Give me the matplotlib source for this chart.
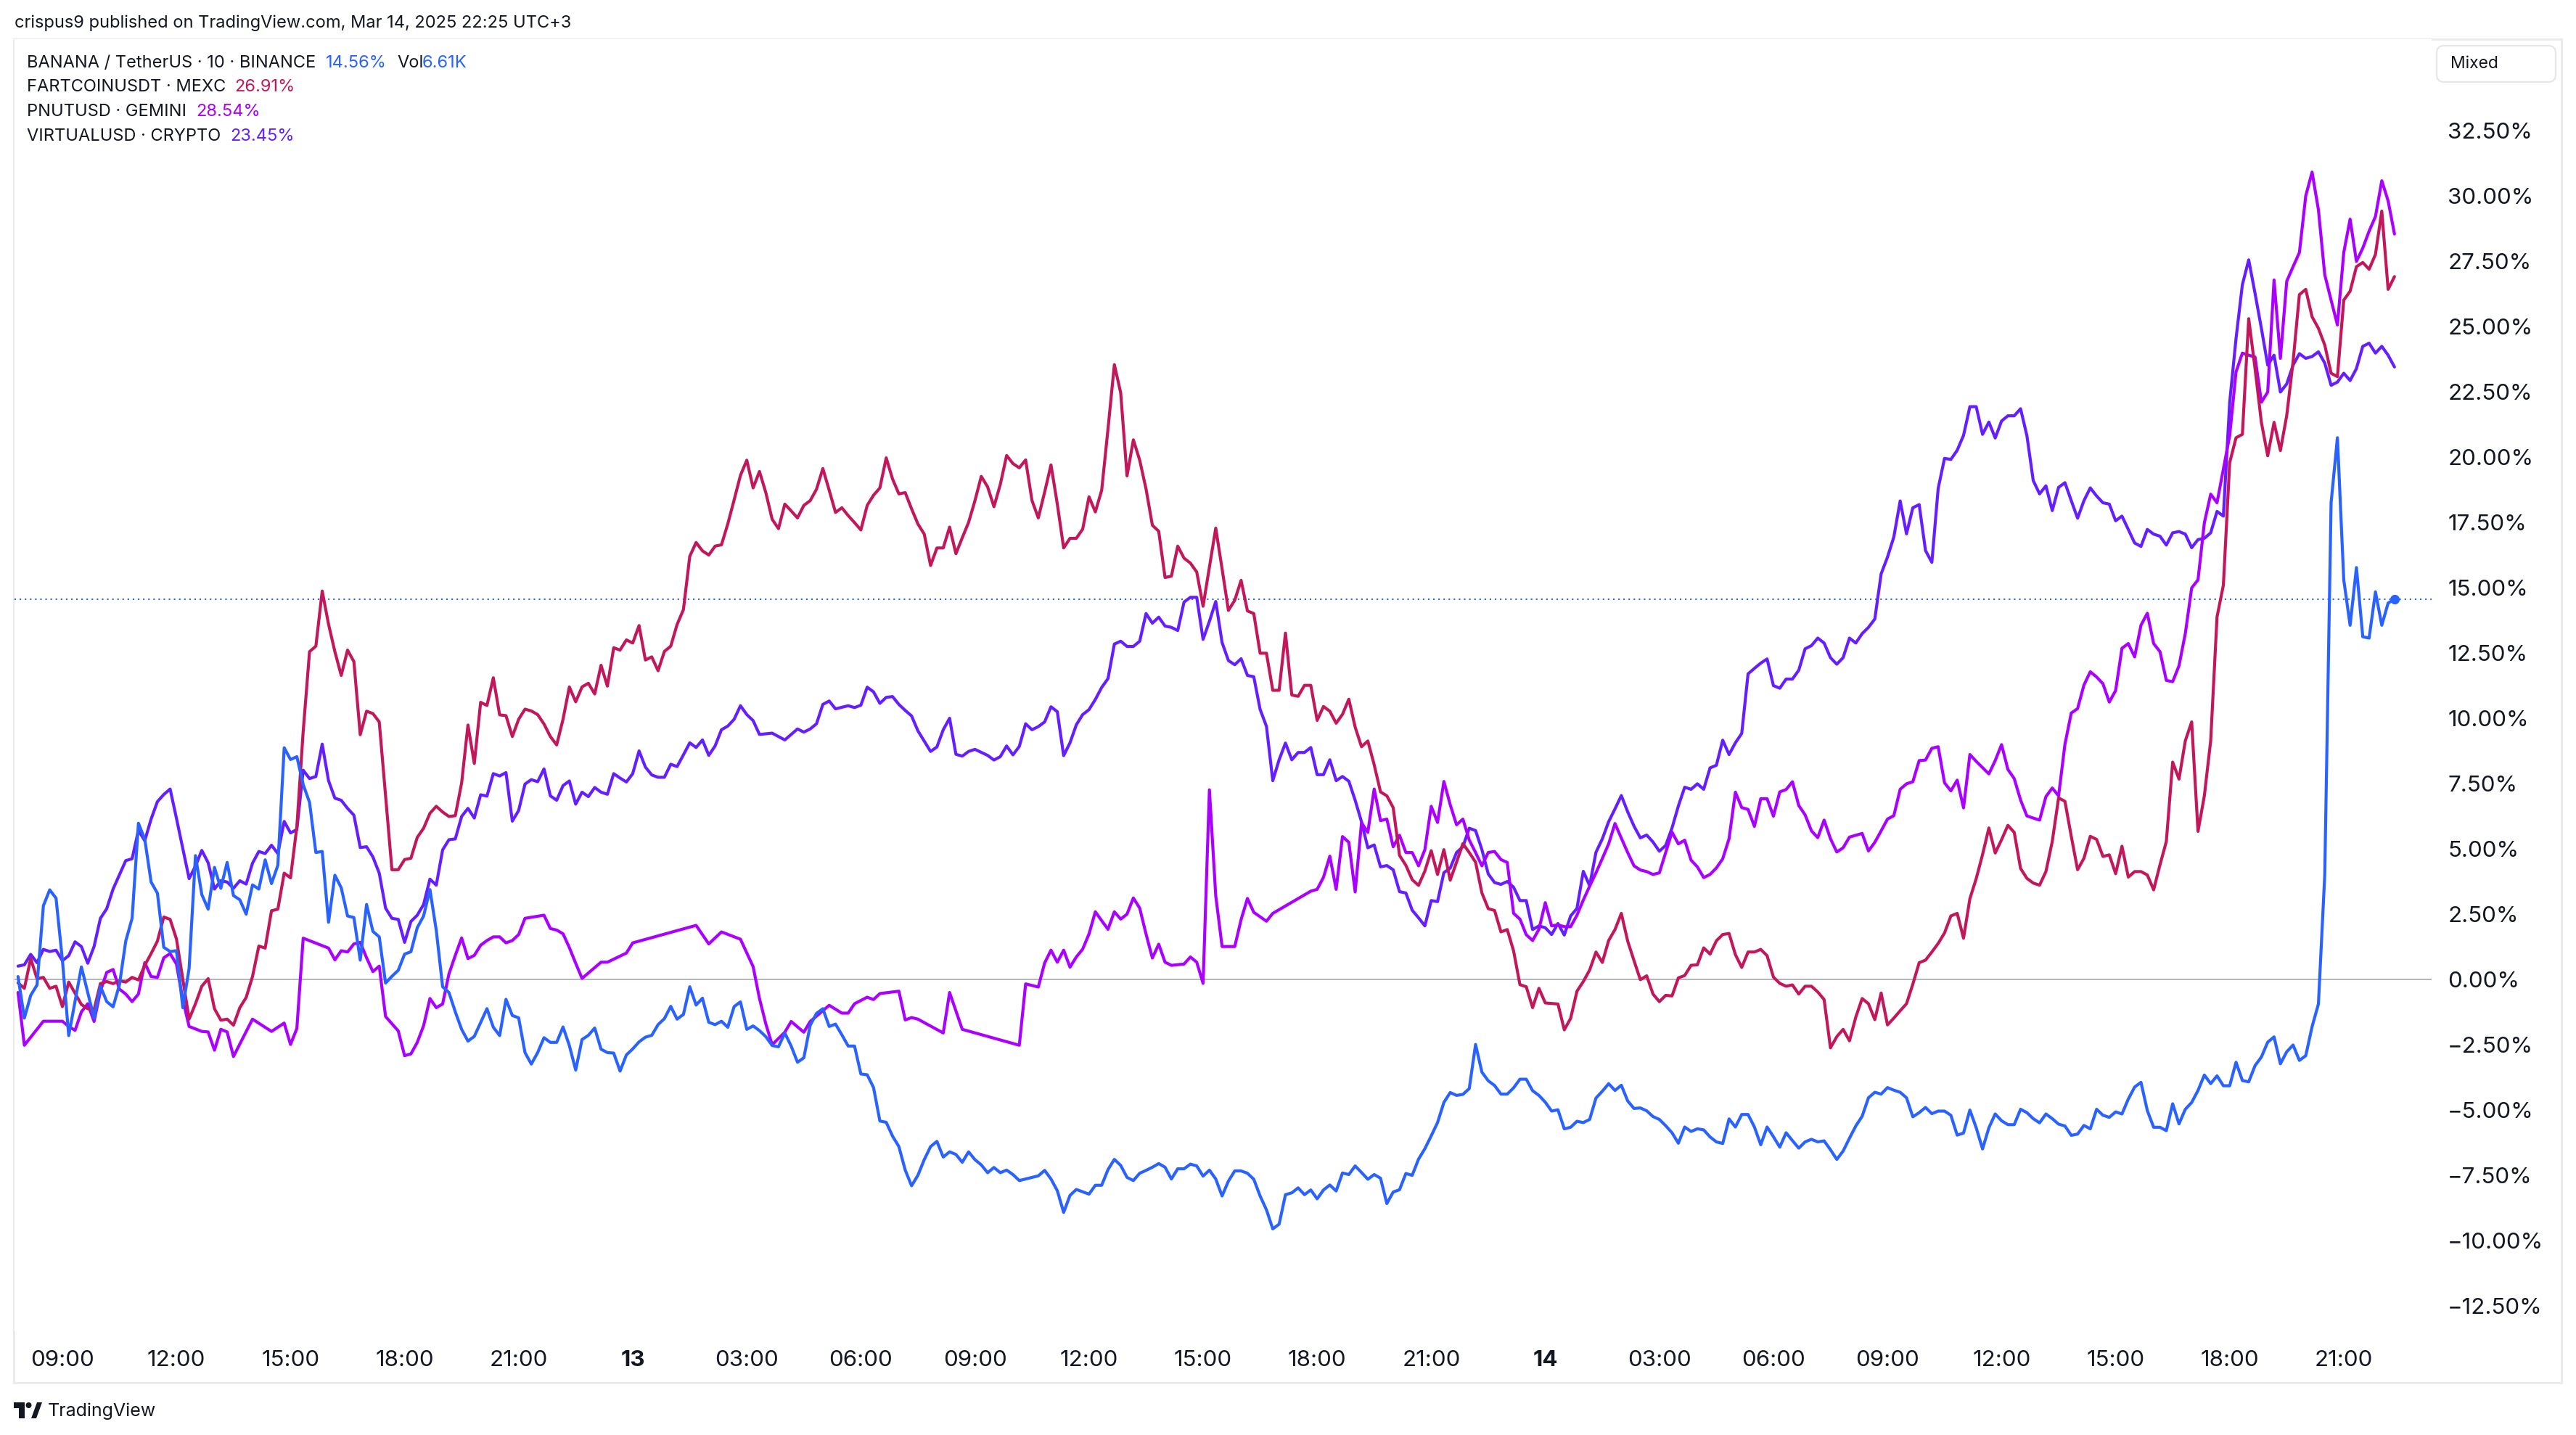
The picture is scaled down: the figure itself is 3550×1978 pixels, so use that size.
import numpy as np
import matplotlib
matplotlib.use("Agg")
import matplotlib.pyplot as plt
from matplotlib.patches import Rectangle, FancyBboxPatch, Circle, Polygon
from matplotlib.transforms import IdentityTransform

# ---------------- data (10-minute bars, bar 0 = Mar 12 07:50, UTC+3) ----------------
BAR0_HOUR = 7 + 50 / 60
BARS_PER_HOUR = 6

banana_bar = [0, 1, 2, 3, 4, 5, 6, 7, 8, 10, 12, 13, 14, 15, 16, 17, 18, 19, 20, 21, 22, 23, 24, 25, 26, 27,
              28, 29, 30, 31, 32, 33, 34, 35, 36, 37, 38, 39, 40, 41, 42, 43, 44, 45, 46, 47, 48, 49, 50, 51,
              52, 53, 54, 55, 56, 57, 58, 59, 60, 61, 62, 63, 64, 65, 66, 67, 68, 69, 70, 71, 72, 73, 74, 75,
              76, 77, 78, 79, 80, 81, 82, 83, 84, 85, 86, 87, 88, 89, 90, 91, 92, 93, 94, 95, 96, 97, 98, 99,
              100, 101, 102, 103, 104, 105, 106, 107, 108, 109, 110, 111, 112, 113, 114, 115, 116, 117, 118,
              119, 120, 121, 122, 123, 124, 125, 126, 127, 128, 129, 130, 131, 132, 133, 134, 135, 136, 137,
              138, 139, 140, 141, 142, 143, 144, 145, 146, 147, 148, 149, 150, 151, 152, 153, 154, 155, 156,
              157, 158, 161, 162, 163, 164, 165, 166, 167, 169, 170, 171, 172, 173, 174, 175, 176, 177, 178,
              179, 180, 181, 182, 183, 184, 185, 186, 187, 188, 189, 190, 191, 192, 193, 194, 195, 196, 197,
              198, 199, 200, 201, 202, 203, 204, 205, 206, 207, 208, 209, 210, 211, 212, 213, 214, 215, 216,
              217, 218, 219, 220, 221, 222, 223, 224, 225, 226, 227, 228, 229, 230, 231, 232, 233, 234, 235,
              236, 237, 238, 239, 240, 241, 242, 243, 244, 245, 246, 247, 248, 249, 250, 251, 252, 253, 254,
              255, 256, 257, 258, 259, 260, 261, 262, 263, 264, 265, 266, 267, 268, 269, 270, 271, 272, 273,
              274, 275, 276, 277, 278, 279, 280, 281, 282, 283, 284, 285, 286, 287, 288, 289, 290, 291, 292,
              293, 294, 295, 296, 297, 298, 299, 300, 301, 302, 303, 304, 305, 306, 307, 308, 309, 310, 311,
              312, 313, 314, 315, 316, 317, 318, 319, 320, 321, 322, 323, 324, 325, 326, 327, 328, 329, 330,
              331, 332, 333, 334, 335, 336, 337, 338, 339, 340, 341, 342, 343, 344, 345, 346, 347, 348, 349,
              350, 351, 352, 353, 354, 355, 356, 357, 358, 359, 360, 361, 362, 363, 364, 365, 366, 367, 368,
              369, 370, 371, 372, 373, 374, 375]
banana_pct = [0.11, -1.48, -0.61, -0.21, 2.82, 3.43, 3.11, 0.75, -2.15, 0.48, -1.48, -0.26, -0.85, -1.05,
              -0.21, 1.47, 2.34, 5.98, 5.37, 3.73, 3.30, 1.23, 1.07, 1.10, -1.08, 0.43, 4.74, 3.25, 2.69, 4.29,
              3.49, 4.48, 3.21, 3.05, 2.50, 3.62, 3.46, 4.58, 3.67, 4.37, 8.87, 8.42, 8.53, 7.46, 6.78, 4.86,
              4.90, 2.19, 3.99, 3.51,
              2.43, 2.37, 0.74, 2.87, 1.84, 1.63, -0.14, 0.12, 0.35, 0.97, 1.06, 1.98, 2.43, 3.44, 1.88, -0.28,
              -0.50, -1.24, -1.91, -2.36, -2.18, -1.65, -1.12, -1.83, -2.15, -0.76, -1.38, -1.47, -2.80, -3.24,
              -2.80, -2.23, -2.41, -2.41, -1.82, -2.53, -3.47, -2.30, -2.14, -1.86, -2.67, -2.80, -2.82, -3.51,
              -2.89, -2.66, -2.39, -2.21, -2.14, -1.73, -1.50, -1.03, -1.52,
              -1.34, -0.28, -0.98, -0.72, -1.64, -1.73, -1.60, -1.83, -1.04, -0.86, -1.91, -1.78, -1.96, -2.19,
              -2.53, -2.58, -2.05, -2.55, -3.17, -3.00, -1.76, -1.30, -1.12, -1.80, -1.71, -2.12, -2.55, -2.55,
              -3.62, -3.65, -4.14, -5.42, -5.47,
              -6.0, -6.4, -7.3, -7.9, -7.5, -6.9, -6.4, -6.2, -6.8, -6.6, -6.7, -7.0, -6.6, -6.9, -7.1, -7.4,
              -7.2, -7.4, -7.3,
              -7.47, -7.70, -7.52, -7.31, -7.64, -8.09, -8.92, -8.27, -8.04, -8.22, -7.88, -7.88, -7.28, -6.89,
              -7.12, -7.58, -7.70, -7.42, -7.31, -7.19, -7.05, -7.19, -7.64, -7.25, -7.25, -7.07, -7.14, -7.53,
              -7.30, -7.64, -8.29, -7.72, -7.33, -7.33, -7.42, -7.65, -8.29, -8.82, -9.55, -9.37, -8.24, -8.17,
              -7.98, -8.24, -8.06, -8.40, -8.06, -7.87, -8.10, -7.41,
              -7.47, -7.14, -7.39, -7.65, -7.47, -7.61, -8.58, -8.14, -8.05, -7.43, -7.50, -6.88, -6.48, -5.99,
              -5.48, -4.71, -4.33, -4.44, -4.40, -4.18, -2.49, -3.55, -3.88, -4.06, -4.39, -4.39, -4.15, -3.82,
              -3.82, -4.26, -4.44, -4.70, -5.04, -4.99, -5.72, -5.66, -5.43, -5.48, -5.36, -4.54, -4.28, -3.99,
              -4.25, -4.05, -4.65, -4.94, -4.92, -5.03, -5.25, -5.36, -5.60, -5.87, -6.27,
              -5.65, -5.82, -5.72, -5.76, -6.03, -6.22, -6.28, -5.34, -5.65, -5.17, -5.17, -5.65, -6.33, -5.65,
              -6.02, -6.42, -5.87, -6.17, -6.46, -6.22, -6.12, -6.22, -6.18, -6.52, -6.89, -6.57, -6.08, -5.61,
              -5.24, -4.53, -4.32, -4.39, -4.14, -4.24, -4.32, -4.53, -5.26, -5.10, -4.90, -5.14, -5.04, -5.04,
              -5.20, -5.96, -5.88, -5.00, -5.68, -6.49, -5.68, -5.15, -5.41, -5.56, -5.56,
              -4.97, -5.10, -5.33, -5.49, -5.15, -5.33, -5.54, -5.61, -5.97, -5.92, -5.59, -5.72, -4.97, -5.20,
              -5.28, -5.07, -5.15, -4.58, -4.12, -3.94, -5.02, -5.66, -5.66, -5.79, -4.76, -5.53, -4.97, -4.71,
              -4.25, -3.66, -3.99, -3.69, -4.07, -4.07, -3.17, -3.87, -3.92, -3.30, -2.97, -2.40, -2.20, -3.23,
              -2.77, -2.51, -3.10, -2.92, -1.81, -0.94, 4.00, 18.25, 20.74, 15.30, 13.56, 15.77, 13.12, 13.07,
              14.84, 13.56, 14.41, 14.56]

fart_bar = [0, 1, 2, 3, 4, 5, 6, 7, 8, 9, 10, 11, 12, 13, 14, 15, 16, 17, 18, 19, 20, 21, 22, 23, 24, 25,
            27, 28, 29, 30, 31, 32, 33, 34, 35, 36, 37, 38, 39, 40, 41, 42, 43, 44, 45, 46, 47, 48, 49, 50, 51,
            52, 53, 54, 55, 56, 57, 59, 60, 61, 62, 63, 64, 65, 66, 67, 68, 69, 70, 71, 72, 73, 74, 75, 76, 77,
            78, 79, 80, 81, 82, 83, 84, 85, 86, 87, 88, 89, 90, 91, 92, 93, 94, 95, 96, 97, 98, 99, 100, 101,
            102, 103, 104,
            105, 106, 107, 108, 109, 110, 111, 112, 113, 114, 115, 116, 117, 118, 119, 120, 121, 122, 123,
            124, 125, 126, 127, 128, 129, 130, 131, 132, 133, 134, 135, 136, 137, 138, 139, 140, 141, 142,
            143, 144, 145, 146, 147, 148, 149, 150, 151, 152, 153, 154, 155, 156,
            157, 158, 159, 160, 161, 162, 163, 164, 165, 166, 167, 168, 169, 170, 171, 172, 173, 174, 175,
            176, 177, 178, 179, 180, 181, 182, 183, 184, 185, 186, 187, 188, 189, 190, 191, 192, 193, 194,
            195, 196, 197, 198, 199, 200, 201, 202, 203, 204, 205, 206, 207, 208, 209,
            210, 211, 212, 213, 214, 215, 216, 217, 218, 219, 220, 221, 222, 223, 224, 225, 226, 227, 228,
            229, 230, 231, 232, 233, 234, 235, 236, 237, 238, 239, 240, 241, 243, 244, 245, 246, 247, 248,
            249, 250, 251, 252, 253, 254, 255, 256, 257, 258, 259, 260, 261, 262,
            263, 264, 265, 266, 267, 268, 269, 270, 271, 272, 273, 274, 275, 276, 277, 278, 279, 280, 281,
            282, 283, 284, 285, 286, 287, 288, 289, 290, 291, 292, 293, 294, 295, 296, 297, 298, 299, 300,
            301, 302, 303, 304, 305, 306, 307, 308, 309, 310, 311, 312, 313, 314, 315,
            316, 317, 318, 319, 320, 321, 322, 323, 324, 325, 326, 327, 328, 329, 330, 331, 332, 333, 334,
            335, 336, 337, 338, 339, 340, 341, 342, 343, 344, 345, 346, 347, 348, 349, 350, 351, 352, 353,
            354, 355, 356, 357, 358, 359, 360, 361, 362, 363, 364, 365, 366, 367, 368, 369, 370, 371, 372,
            373, 374, 375]
fart_pct = [-0.13, -0.34, 0.80, 0.03, 0.08, -0.34, -0.26, -1.04, -0.10, -0.53, -0.96, -1.12, -1.16, -0.16,
            -0.08, -0.16, -0.05, -0.10, 0.08, -0.02, 0.54, 0.99, 1.47, 2.39, 2.30, 1.55, -1.52, -0.93, -0.26,
            0.03, -1.12, -1.56, -1.52, -1.75, -1.08, -0.69, 0.11, 1.28, 1.20, 2.63, 2.69, 4.07, 3.89, 5.85, 9.5,
            12.55, 12.76, 14.87, 13.60, 12.55, 11.64,
            12.61, 12.17, 9.37, 10.27, 10.18, 9.86, 4.20, 4.20, 4.59, 4.64, 5.44, 5.79, 6.36, 6.63, 6.41, 6.24,
            6.27, 7.52, 9.74, 8.27, 10.61, 10.49, 11.55, 10.13, 10.10, 9.30, 9.96, 10.35, 10.28, 10.14, 9.78,
            9.30, 8.98, 9.96, 11.20, 10.63, 11.20, 11.34, 10.93, 12.03, 11.23, 12.70, 12.61, 13.00, 12.88,
            13.55, 12.23, 12.35, 11.82, 12.56, 12.76, 13.59,
            14.16, 16.20, 16.73, 16.41, 16.25, 16.59, 16.64, 17.44, 18.36, 19.30, 19.88, 18.82, 19.45, 18.64,
            17.62, 17.26, 18.20, 17.94, 17.67, 18.15, 18.33, 18.77, 19.56, 18.73, 17.88, 18.06, 17.76, 17.49,
            17.21, 18.15, 18.54, 18.82, 19.97, 19.16, 18.59, 18.64, 18.02, 17.44, 17.05, 15.85, 16.52, 16.52,
            17.32, 16.30, 16.91, 17.50, 18.33, 19.26, 18.86, 18.10, 18.95, 20.06,
            19.75, 19.59, 19.89, 18.34, 17.67, 18.66, 19.70, 18.20, 16.52, 16.89, 16.89, 17.24, 18.48, 17.90,
            18.73, 21.08, 23.54, 22.46, 19.28, 20.66, 19.88, 18.78, 17.39, 17.16, 15.39, 15.44, 16.59, 16.13,
            15.94, 15.60, 14.29, 15.78, 17.28, 15.72, 14.13, 14.52, 15.28, 14.11, 14.01, 12.49, 12.49, 11.07,
            11.07, 13.26, 10.89, 10.84, 11.26, 11.26, 9.92, 10.45, 10.27, 9.81, 10.15,
            10.73, 9.66, 8.91, 9.13, 8.22, 7.18, 7.03, 6.58, 4.75, 4.37, 3.82, 3.60, 4.15, 4.93, 4.02, 4.97,
            3.80, 4.49, 5.20, 4.86, 4.49, 3.31, 2.71, 2.64, 1.82, 1.91, 1.09, -0.20, -0.28, -1.08, -0.34, -0.90,
            -0.94, -1.93, -1.49, -0.45, -0.08, 0.36, 1.05, 0.65, 1.49, 1.91, 2.53, 1.47, 0.72, -0.01, 0.14,
            -0.56, -0.85, -0.61, -0.63, 0.06,
            0.15, 0.54, 0.56, 1.21, 0.97, 1.48, 1.72, 1.76, 0.95, 0.46, 1.05, 1.05, 1.15, 0.91, 0.09, -0.15,
            -0.26, -0.21, -0.56, -0.26, -0.26, -0.48, -0.77, -2.62, -2.19, -1.91, -2.35, -1.44, -0.73, -0.93,
            -1.54, -0.52, -1.74, -1.48, -1.20, -0.93, -0.18, 0.64, 0.74, 1.05, 1.38, 1.78, 2.43, 2.53, 1.58,
            3.09, 3.86, 4.78, 5.80, 4.84, 5.35, 5.90, 5.63,
            4.25, 3.87, 3.69, 3.61, 4.13, 5.28, 6.95, 6.82, 5.48, 4.20, 4.64, 5.48, 5.36, 4.71, 4.77, 4.05,
            5.10, 3.92, 4.13, 4.13, 4.00, 3.43, 4.39, 5.28, 8.32, 7.67, 9.14, 9.86, 5.67, 7.03, 9.14, 13.88,
            15.09, 19.79, 20.74, 20.87, 25.30, 23.39, 21.33, 20.05, 21.33, 20.25, 21.59, 23.65, 26.22, 26.42,
            25.37, 24.93, 24.29, 23.21, 23.08, 26.01, 26.35, 27.29, 27.45, 27.19, 27.76, 29.42, 26.42, 26.91]

pnut_bar = [0, 1, 4, 7, 8, 9, 10, 11, 12, 13, 14, 15, 16, 17, 18, 19, 20, 21, 22, 23, 24, 25, 26, 27, 29,
            30, 31, 32, 33, 34, 37, 40, 42, 43, 44, 45, 49, 50, 51,
            52, 53, 54, 55, 56, 57, 58, 60, 61, 62, 63, 64, 65, 66, 67, 68, 69, 70, 71, 72, 73, 74, 75, 76,
            77, 78, 79, 80, 83, 84, 85, 86, 87, 88, 89, 92, 93, 96, 97,
            107, 109, 111, 114, 116, 117, 118, 119, 121, 122, 124, 125, 128, 130, 131, 132, 134, 135, 136,
            139, 140, 141, 142, 146, 147, 149,
            158, 159, 161, 162, 163, 164, 165, 166, 167, 168, 169, 170, 171, 172, 173, 174, 175, 176, 177,
            178, 179, 180, 181, 182, 184, 185, 186, 187, 188, 189, 190, 192, 193, 194, 195, 197, 198, 204,
            205, 206, 207, 208, 209,
            210, 211, 212, 213, 214, 215, 216, 217, 218, 219, 220, 221, 222, 223, 224, 225, 226, 227, 228,
            229, 230, 231, 232, 233, 234, 235, 236, 237, 238, 239, 240, 241, 242, 243, 244, 245, 246, 247,
            248, 249, 250, 251, 252, 253, 254, 255, 256, 257, 258, 259, 260, 261, 262,
            263, 264, 265, 266, 267, 268, 269, 270, 271, 272, 273, 274, 275, 276, 277, 278, 279, 280, 281,
            282, 283, 284, 285, 286, 287, 288, 289, 291, 292, 293, 294, 295, 296, 297, 298, 299, 300, 301,
            302, 303, 304, 305, 306, 307, 308, 309, 311, 312, 313, 314, 315,
            316, 317, 319, 320, 321, 322, 323, 324, 325, 326, 327, 328, 329, 330, 331, 332, 333, 334, 335,
            336, 337, 338, 339, 340, 341, 342, 343, 344, 345, 346, 347, 348, 349, 350, 351, 352, 353, 354,
            355, 356, 357, 358, 359, 360, 361, 362, 363, 364, 365, 366, 367, 368, 369, 370, 371, 372, 373,
            374, 375]
pnut_pct = [-0.5, -2.52, -1.60, -1.60, -1.80, -1.95, -1.24, -0.93, -1.61, -0.45, 0.27, 0.38, -0.37, -0.56,
            -0.85, -0.56, 0.64, 0.11, 0.08, 0.83, 0.99, 0.59, -0.77, -1.80, -1.99, -2.01, -2.71, -1.91, -2.01,
            -2.95, -1.52, -1.99, -1.67, -2.49, -1.88, 1.58, 1.20, 0.75, 1.10,
            1.05, 1.36, 1.42, 0.83, 0.30, 0.51, -1.42, -1.97, -2.92, -2.85, -2.41, -1.77, -0.73, -1.08, -0.94,
            0.21, 0.92, 1.59, 0.80, 0.92, 1.31, 1.49, 1.63, 1.63, 1.40, 1.49, 1.72, 2.34, 2.46, 1.95, 1.89,
            1.75, 1.22, 0.62, 0.04, 0.66, 0.66, 1.01, 1.40,
            2.07, 1.36, 1.82, 1.54, 0.49, -0.73, -1.70, -2.50, -2.02, -1.61, -2.02, -1.61, -0.99, -1.29, -1.29,
            -0.93, -0.68, -0.77, -0.54, -0.45, -1.55, -1.46, -1.52, -2.05, -0.50, -1.91,
            -2.52, -0.17, -0.29, 0.63, 1.12, 0.66, 1.12, 0.47, 0.86, 1.16, 1.74, 2.59, 2.25, 1.92, 2.59, 2.31,
            2.50, 3.12, 2.73, 1.74, 0.82, 1.35, 0.66, 0.54, 0.59, 0.86, 0.66, -0.15, 7.26, 3.20, 1.26, 1.26,
            2.29, 3.10, 2.57, 2.23, 2.53, 3.38, 3.45, 3.91, 4.72, 3.45, 5.47,
            5.25, 3.35, 6.00, 5.63, 7.29, 6.08, 6.14, 5.08, 5.52, 4.86, 4.86, 4.35, 4.97, 6.63, 6.01, 7.58,
            6.69, 5.92, 6.14, 5.34, 4.86, 4.35, 4.86, 4.90, 4.59, 4.48, 2.53, 2.31, 1.71, 1.49, 1.92, 2.94,
            2.05, 2.09, 2.02, 2.02, 2.46, 3.04, 3.57, 4.08, 4.63, 5.19, 5.97, 5.41, 4.86, 4.35, 4.19, 4.13,
            4.02, 4.08, 4.86, 5.64, 5.19,
            5.33, 4.57, 4.31, 3.90, 4.02, 4.27, 4.62, 5.39, 7.17, 6.58, 6.51, 5.86, 6.92, 6.92, 6.25, 7.18,
            7.27, 7.57, 6.66, 6.30, 5.69, 5.43, 6.10, 5.39, 4.88, 5.04, 5.45, 5.59, 4.92, 5.25, 5.69, 6.14,
            6.27, 7.28, 7.49, 7.57, 8.38, 8.40, 8.85, 8.91, 7.53, 7.22, 7.63, 6.57, 8.61, 8.35, 7.87, 8.38,
            8.99, 8.04, 7.69,
            6.87, 6.26, 6.10, 7.00, 7.33, 7.03, 9.00, 10.20, 10.37, 11.27, 11.78, 11.58, 11.32, 10.62, 11.06,
            12.68, 12.86, 12.35, 13.56, 14.02, 12.86, 12.55, 11.45, 11.40, 12.01, 13.25, 14.99, 15.30, 17.48,
            18.58, 18.25, 19.54, 20.82, 23.26, 23.98, 23.90, 23.83, 22.10, 22.49, 26.78, 23.78, 26.73, 27.29,
            27.83, 30.00, 30.91, 29.47, 26.98, 26.01, 25.06, 27.83, 29.11, 27.49, 28.00, 28.65, 29.21, 30.58,
            29.81, 28.54]

virtual_bar = [0, 1, 2, 3, 4, 5, 6, 7, 8, 9, 10, 11, 12, 13, 14, 15, 17, 18, 19, 20, 21, 22, 23, 24, 25,
               27, 28, 29, 30, 31, 32, 33, 34, 35, 36, 37, 38, 39, 40, 41, 42, 43, 44, 45, 46, 47, 48, 49, 50,
               51,
               52, 53, 54, 55, 56, 57, 58, 59, 60, 61, 62, 63, 64, 65, 66, 67, 68, 69, 70, 71, 72, 73, 74, 75,
               76, 77, 78, 79, 80, 81, 82, 83, 84, 85, 86, 87, 88, 89, 90, 91, 92, 93, 94, 95, 96, 97, 98, 99,
               100, 101, 102, 103, 104,
               105, 106, 107, 108, 109, 110, 111, 112, 113, 114, 115, 116, 117, 119, 121, 123, 124, 125, 126,
               127, 128, 129, 131, 132, 133, 134, 135, 136, 137, 138, 139, 140, 141, 142, 144, 145, 146, 147,
               148, 149, 150, 151, 153, 154, 155, 156,
               157, 158, 159, 160, 161, 162, 163, 164, 165, 166, 167, 168, 169, 170, 171, 172, 173, 174, 175,
               176, 177, 178, 179, 180, 181, 182, 183, 184, 185, 186, 187, 188, 189, 190, 191, 192, 193, 194,
               195, 196, 197, 198, 199, 200, 201, 202, 203, 204, 205, 206, 207, 208, 209,
               210, 211, 212, 213, 214, 215, 216, 217, 218, 219, 220, 221, 222, 223, 224, 225, 226, 227, 228,
               229, 230, 231, 232, 233, 234, 235, 236, 237, 238, 239, 240, 241, 242, 243, 244, 245, 246, 247,
               248, 249, 250, 251, 252, 253, 254, 255, 256, 257, 258, 259, 260, 261, 262,
               263, 264, 265, 266, 267, 268, 269, 270, 271, 272, 273, 274, 275, 276, 277, 278, 279, 280, 281,
               282, 283, 284, 285, 286, 287, 288, 289, 290, 291, 292, 293, 294, 295, 296, 297, 298, 299, 300,
               301, 302, 303, 304, 305, 306, 307, 308, 309, 310, 311, 312, 313, 314, 315,
               316, 317, 318, 319, 320, 321, 322, 323, 324, 325, 326, 327, 328, 329, 330, 331, 332, 333, 334,
               335, 336, 337, 338, 339, 340, 341, 342, 343, 344, 345, 346, 347, 348, 349, 350, 351, 352, 353,
               354, 355, 356, 357, 358, 359, 360, 361, 362, 363, 364, 365, 366, 367, 368, 369, 370, 371, 372,
               373, 374, 375]
virtual_pct = [0.51, 0.56, 0.96, 0.64, 1.15, 1.07, 1.12, 0.72, 0.91, 1.44, 1.26, 0.62, 1.26, 2.34, 2.71,
               3.46, 4.55, 4.62, 5.71, 5.31, 6.14, 6.81, 7.08, 7.29, 6.17, 3.86, 4.34, 4.94, 4.47, 3.46, 3.78,
               3.73, 3.49, 3.78, 3.65, 4.45, 4.90, 4.82, 5.14, 4.82, 6.05, 5.61, 5.74, 8.01, 7.69, 7.77, 9.01,
               7.61, 6.94, 6.86,
               6.55, 6.29, 5.05, 5.08, 4.69, 4.07, 2.73, 2.34, 2.30, 1.42, 2.22, 2.46, 2.87, 3.84, 3.61, 4.96,
               5.35, 5.38, 6.24, 6.55, 6.18, 7.07, 7.02, 7.88, 7.79, 7.92, 6.06, 6.47, 7.48, 7.65, 7.57, 8.06,
               7.03, 6.86, 7.42, 7.60, 6.71, 7.17, 7.00, 7.35, 7.17, 7.09, 7.88, 7.71, 7.56, 7.88, 8.75, 8.13,
               7.83, 7.74, 7.74, 8.24, 8.15,
               8.60, 9.06, 8.88, 9.17, 8.58, 8.94, 9.56, 9.70, 9.96, 10.48, 10.14, 9.91, 9.38, 9.43, 9.17, 9.59,
               9.47, 9.59, 9.79, 10.53, 10.66, 10.36, 10.48, 10.41, 10.50, 11.19, 11.01, 10.57, 10.80, 10.83,
               10.53, 10.30, 10.09, 9.52, 8.73, 8.90, 9.56, 10.00, 8.62, 8.55, 8.73, 8.81, 8.58, 8.40, 8.53, 8.94,
               8.60, 8.92, 9.79, 9.56, 9.68, 9.86, 10.44, 10.25, 8.57, 9.06, 9.75, 10.14, 10.33, 10.72, 11.18,
               11.52, 12.84, 12.95, 12.75, 12.75, 12.95, 14.01, 13.64, 13.87, 13.53, 13.48, 13.36, 14.45, 14.63,
               14.63, 13.02, 13.71, 14.47, 12.90, 12.21, 12.05, 12.28, 11.64, 11.59, 10.34, 9.69, 7.61, 8.41,
               9.05, 8.41, 8.69, 8.69, 8.88, 7.84, 7.84, 8.41, 7.61, 7.77,
               7.59, 6.86, 6.04, 5.04, 5.15, 4.31, 4.36, 4.20, 3.36, 3.31, 2.65, 2.36, 2.05, 3.02, 2.98, 4.09,
               4.26, 4.86, 5.08, 5.79, 5.70, 4.97, 4.04, 3.71, 3.64, 3.75, 3.53, 3.02, 3.02, 1.91, 2.05, 1.98,
               1.72, 2.14, 1.70, 2.43, 2.72, 4.14, 3.59, 4.87, 5.38, 6.04, 6.53, 7.04, 6.42, 5.87, 5.42, 5.53,
               5.26, 4.91, 5.13, 5.80, 6.64,
               7.36, 7.28, 7.49, 7.28, 8.10, 8.20, 9.16, 8.61, 9.06, 9.42, 11.70, 11.91, 12.11, 12.27, 11.25,
               11.15, 11.50, 11.50, 11.84, 12.66, 12.78, 13.07, 12.88, 12.32, 12.07, 12.32, 13.07, 12.88, 13.24,
               13.48, 13.80, 15.53, 16.17, 16.94, 18.32, 17.06, 18.06, 18.18, 16.42, 15.97, 18.80, 19.95, 19.91,
               20.26, 20.83, 21.93, 21.93, 20.87, 21.34, 20.73, 21.38, 21.58, 21.58,
               21.85, 20.82, 19.10, 18.59, 18.90, 17.95, 18.84, 19.02, 18.33, 17.66, 18.33, 18.82, 18.51, 18.25,
               18.20, 17.56, 17.74, 17.23, 16.71, 16.58, 17.23, 17.05, 16.97, 16.63, 17.10, 17.15, 17.05, 16.53,
               16.84, 16.89, 17.10, 17.92, 17.74, 22.10, 24.54, 26.60, 27.55, 26.27, 24.93, 23.52, 23.90, 22.49,
               22.80, 23.52, 23.96, 23.78, 23.85, 24.03, 23.60, 22.75, 22.87, 23.21, 22.93, 23.39, 24.24, 24.36,
               23.98, 24.24, 23.90, 23.45]

series_names = ["BANANA / TetherUS · 10 · BINANCE", "FARTCOINUSDT · MEXC", "PNUTUSD · GEMINI",
                "VIRTUALUSD · CRYPTO"]
series_last = ["14.56%", "26.91%", "28.54%", "23.45%"]
banana_volume = "6.61K"

x_tick_hours = [9, 12, 15, 18, 21, 24, 27, 30, 33, 36, 39, 42, 45, 48, 51, 54, 57, 60, 63, 66, 69]
x_tick_labels = ["09:00", "12:00", "15:00", "18:00", "21:00", "13", "03:00", "06:00", "09:00", "12:00",
                 "15:00", "18:00", "21:00", "14", "03:00", "06:00", "09:00", "12:00", "15:00", "18:00", "21:00"]
y_ticks = [-12.5, -10.0, -7.5, -5.0, -2.5, 0.0, 2.5, 5.0, 7.5, 10.0, 12.5, 15.0, 17.5, 20.0, 22.5, 25.0,
           27.5, 30.0, 32.5]

title_text = "crispus9 published on TradingView.com, Mar 14, 2025 22:25 UTC+3"

# ---------------- styling ----------------
C_BLUE = "#2962FF"
C_FART = "#C2185B"
C_PNUT = "#AA00FF"
C_VIRT = "#651FFF"
C_TEXT = "#131722"

W, H = 3550, 1978
DPI = 100
FONT = ["Inter", "DejaVu Sans"]
plt.rcParams["font.family"] = FONT


def hours(bars):
    return BAR0_HOUR + np.asarray(bars, dtype=float) / BARS_PER_HOUR


fig = plt.figure(figsize=(W / DPI, H / DPI), dpi=DPI)
fig.patch.set_facecolor("white")

# axes in pixel layout
AX_L, AX_R, AX_T, AX_B = 20, 3351, 54, 1835
ax = fig.add_axes([AX_L / W, 1 - AX_B / H, (AX_R - AX_L) / W, (AX_B - AX_T) / H])
ax.set_facecolor("white")
for s in ax.spines.values():
    s.set_visible(False)

ax.set_xlim(7.741, 71.31)
ax.set_ylim(-13.47, 36.0)

ax.axhline(0, color="#B2B5BE", lw=1.4, zorder=1)
ax.axhline(banana_pct[-1], color=C_BLUE, lw=1.5, linestyle=(0, (1, 2.4)), zorder=1.5)

LW = 3.0
kw = dict(lw=LW, solid_joinstyle="round", solid_capstyle="round")
ax.plot(hours(virtual_bar), virtual_pct, color=C_VIRT, zorder=3, **kw)
ax.plot(hours(pnut_bar), pnut_pct, color=C_PNUT, zorder=3, **kw)
ax.plot(hours(fart_bar), fart_pct, color=C_FART, zorder=3, **kw)
ax.plot(hours(banana_bar), banana_pct, color=C_BLUE, zorder=4, **kw)
ax.plot(hours(banana_bar[-1:]), banana_pct[-1:], "o", color=C_BLUE, ms=8.5, zorder=5)

ax.set_yticks(y_ticks)
ax.set_yticklabels([("\u2212" if v < 0 else "") + f"{abs(v):.2f}%" for v in y_ticks])
ax.yaxis.tick_right()
ax.tick_params(axis="y", length=0, pad=16, labelsize=22.5, labelcolor=C_TEXT)
ax.set_xticks(x_tick_hours)
ax.set_xticklabels(x_tick_labels)
ax.tick_params(axis="x", length=0, pad=19, labelsize=22.5, labelcolor=C_TEXT)
for t in ax.get_xticklabels():
    if ":" not in t.get_text():
        t.set_fontweight("bold")


# ---------------- figure decorations (pixel coordinates from top-left) ----------------
def fx(x):
    return x / W


def fy(y):
    return 1 - y / H


ID = IdentityTransform()

# outer frame
fig.add_artist(Rectangle((19, H - 1906), 3530 - 19, 1906 - 54, transform=ID, fill=False,
                         edgecolor="#EBEBEE", lw=2.2, zorder=0))

# "Mixed" button
fig.add_artist(FancyBboxPatch((3358, H - 113), 3522 - 3358, 113 - 63, transform=ID,
                              boxstyle="round,pad=0,rounding_size=10", fill=False,
                              edgecolor="#E6E7EB", lw=1.6))
fig.text(fx(3377), fy(88), "Mixed", fontsize=16.5, color=C_TEXT, ha="left", va="center")

# title
fig.text(fx(20), fy(32), title_text, fontsize=17, color=C_TEXT, ha="left", va="center")

# legend rows
LEG_FS = 17
rows_y = [87, 120, 154, 188]
name_x = 37
value_x = [449, 323, 270, 317]
value_col = [C_BLUE, C_FART, C_PNUT, C_VIRT]
for k in range(4):
    fig.text(fx(name_x), fy(rows_y[k]), series_names[k], fontsize=LEG_FS, color=C_TEXT,
             ha="left", va="center")
    fig.text(fx(value_x[k]), fy(rows_y[k]), series_last[k], fontsize=LEG_FS, color=value_col[k],
             ha="left", va="center")
fig.text(fx(547), fy(rows_y[0]), "Vol", fontsize=LEG_FS, color=C_TEXT, ha="left", va="center")
fig.text(fx(582), fy(rows_y[0]), banana_volume, fontsize=LEG_FS, color=C_BLUE, ha="left", va="center")

# TradingView logo
LOGO = "#131722"
fig.add_artist(Rectangle((19, H - 1941), 15, 8, transform=ID, color=LOGO, lw=0))
fig.add_artist(Rectangle((26, H - 1955), 8, 22, transform=ID, color=LOGO, lw=0))
fig.add_artist(Circle((39.5, H - 1937), 4, transform=ID, color=LOGO, lw=0))
fig.add_artist(Polygon([(43, H - 1955), (50, H - 1955), (58, H - 1933), (51, H - 1933)],
                       closed=True, transform=ID, color=LOGO, lw=0))
fig.text(fx(66), fy(1945), "TradingView", fontsize=18, color=C_TEXT, ha="left", va="center")

fig.savefig("out.png", dpi=DPI, facecolor="white")
